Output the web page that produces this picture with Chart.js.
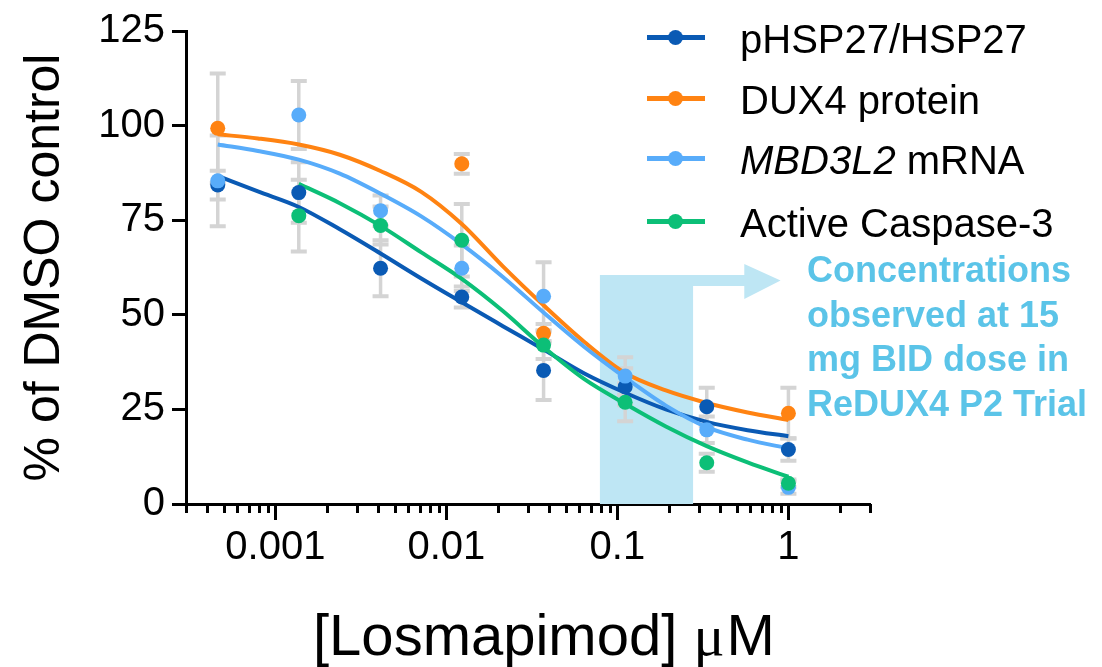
<!DOCTYPE html>
<html><head><meta charset="utf-8">
<script src="https://cdn.jsdelivr.net/npm/chart.js@4/dist/chart.umd.min.js"></script>
<style>
html,body{margin:0;padding:0;background:#fff;}
#wrap{position:relative;width:1102px;height:667px;overflow:hidden;font-family:'Liberation Sans',Arial,Helvetica,sans-serif;}
#c{position:absolute;left:0;top:0;}
.lg-line{position:absolute;height:5px;width:58px;}
.lg-dot{position:absolute;width:15px;height:15px;border-radius:50%;}
.lg-text{position:absolute;font-size:40px;line-height:40px;color:#000;white-space:nowrap;}
#note{position:absolute;left:807px;top:248px;font-weight:bold;font-size:36px;line-height:44.7px;color:#5bc4e8;white-space:nowrap;}
#xtitle{position:absolute;left:313px;top:606px;font-size:58px;line-height:58px;color:#000;white-space:nowrap;}
#xtitle .mu{font-family:'Liberation Serif','Times New Roman',serif;margin-right:2px;}
</style></head><body>
<div id="wrap">
<canvas id="c" width="1102" height="667"></canvas>
<div id="legend"></div>
<div id="note">Concentrations<br>observed at 15<br>mg BID dose in<br>ReDUX4 P2 Trial</div>
<div id="xtitle">[Losmapimod] <span class="mu">μ</span>M</div>
</div>
<script>
// ---------- data ----------
const seriesNames = ['pHSP27/HSP27', 'DUX4 protein', 'MBD3L2 mRNA', 'Active Caspase-3'];
const seriesItalic = [null, null, 'MBD3L2', null];
const seriesColors = ['#0a5ab4', '#ff8312', '#58acfa', '#0cbf77'];

const doses = [0.00046, 0.00137, 0.00412, 0.0123, 0.037, 0.111, 0.333, 1];

const hspValues  = [84.3, 82.3, 62.3, 54.7, 35.3, 31.0, 25.7, 14.4];
const hspErrors  = [3.8, 8, 7.4, 2.8, 7.8, 4.9, 5, 3];
const duxValues  = [99.3, null, null, 89.9, 45.1, null, null, 24.0];
const duxErrors  = [14.5, null, null, 2.6, 2.5, null, null, 6.7];
const mbdValues  = [85.4, 102.8, 77.5, 62.3, 54.9, 33.8, 19.6, 4.4];
const mbdErrors  = [12, 9, 4, 6, 9, 5, 3.5, 1.7];
const caspValues = [null, 76.2, 73.6, 69.7, 42.0, 26.9, 10.9, 5.5];
const caspErrors = [null, 9.5, 5, 9.6, 3.7, 5, 2.4, 1];

// fitted curves
const curveX     = [0.00046, 0.00079, 0.00137, 0.00238, 0.00412, 0.00713, 0.0123, 0.0214, 0.037, 0.0641, 0.111, 0.192, 0.333, 0.577, 1];
const hspCurve   = [86.7, 82.6, 78.5, 72.6, 66.2, 59.6, 53.3, 47.0, 40.8, 34.5, 29.4, 25.0, 21.7, 19.5, 17.9];
const duxCurve   = [97.7, 96.6, 95.0, 92.3, 88.0, 82.5, 74.0, 62.8, 52.5, 42.8, 34.6, 30.0, 26.7, 24.2, 22.2];
const mbdCurve   = [95.0, 93.3, 91.0, 87.3, 82.0, 76.0, 68.6, 60.0, 50.6, 41.5, 33.4, 26.0, 20.3, 17.0, 14.7];
const caspCurve  = [null, null, 84.6, 79.5, 73.5, 66.5, 59.5, 51.0, 41.5, 33.0, 26.5, 20.5, 15.3, 11.0, 7.2];

const xMin = 0.0003, xMax = 3;
const xMajorTicks = [0.001, 0.01, 0.1, 1];
const xTickLabels = ['0.001', '0.01', '0.1', '1'];
const yTicks = [0, 25, 50, 75, 100, 125];
const yTitle = '% of DMSO control';

// shaded region and arrow (data coordinates)
const shadeRange = [0.079, 0.277];
const shadeTop = 60.5;
const arrowShaftBottom = 57.6;
const arrowHeadBase = 0.552;
const arrowTip = 0.9;
const arrowHeadTop = 63.4;
const arrowHeadBottom = 54.2;

// ---------- styles ----------
const FONT = "'Liberation Sans', Arial, Helvetica, sans-serif";
const shadeColor = '#bee6f4';
const errColor = '#d4d4d4';

const allValues = [hspValues, duxValues, mbdValues, caspValues];
const allErrors = [hspErrors, duxErrors, mbdErrors, caspErrors];
const allCurves = [hspCurve, duxCurve, mbdCurve, caspCurve];

function pts(xs, ys) { return xs.map((x, i) => ({x: x, y: ys[i]})); }

const pointSets = allValues.map((v, i) => ({
  label: seriesNames[i] + ' points',
  data: pts(doses, v),
  showLine: false,
  pointRadius: 7.5,
  pointHoverRadius: 7.5,
  pointBorderWidth: 0,
  pointBackgroundColor: seriesColors[i],
  borderColor: seriesColors[i],
  backgroundColor: seriesColors[i]
}));
const curveSets = allCurves.map((c, i) => ({
  label: seriesNames[i],
  data: pts(curveX, c),
  showLine: true,
  pointRadius: 0,
  borderWidth: 4,
  borderColor: seriesColors[i],
  backgroundColor: seriesColors[i],
  cubicInterpolationMode: 'monotone',
  fill: false,
  spanGaps: false
}));
// first dataset is drawn on top
const datasets = [pointSets[3], pointSets[2], pointSets[1], pointSets[0],
                  curveSets[3], curveSets[2], curveSets[1], curveSets[0]];

function buildLogTicks(min, max) {
  const out = [];
  for (let e = Math.floor(Math.log10(min)); e <= Math.ceil(Math.log10(max)); e++) {
    for (let d = 1; d <= 9; d++) {
      const v = Number((d * Math.pow(10, e)).toPrecision(6));
      if (v >= min * (1 - 1e-9) && v <= max * (1 + 1e-9)) out.push(v);
    }
  }
  return out;
}
function isMajor(v) {
  return xMajorTicks.some(m => Math.abs(Math.log10(m) - Math.log10(v)) < 1e-6);
}

const backPlugin = {
  id: 'back',
  beforeDatasetsDraw(chart) {
    const {ctx, scales: {x, y}} = chart;
    const x0 = x.getPixelForValue(shadeRange[0]), x1 = x.getPixelForValue(shadeRange[1]);
    const yt = y.getPixelForValue(shadeTop), yb = y.getPixelForValue(0);
    const ys = y.getPixelForValue(arrowShaftBottom);
    const xh = x.getPixelForValue(arrowHeadBase), xt = x.getPixelForValue(arrowTip);
    const yh1 = y.getPixelForValue(arrowHeadTop), yh2 = y.getPixelForValue(arrowHeadBottom);
    const ym = (yt + ys) / 2;
    ctx.save();
    ctx.fillStyle = shadeColor;
    ctx.beginPath();
    ctx.moveTo(x0, yb); ctx.lineTo(x0, yt); ctx.lineTo(xh, yt); ctx.lineTo(xh, yh1);
    ctx.lineTo(xt, ym); ctx.lineTo(xh, yh2); ctx.lineTo(xh, ys); ctx.lineTo(x1, ys);
    ctx.lineTo(x1, yb); ctx.closePath(); ctx.fill();
    // error bars
    ctx.strokeStyle = errColor;
    ctx.lineCap = 'butt';
    for (let s = 0; s < allValues.length; s++) {
      for (let i = 0; i < doses.length; i++) {
        const v = allValues[s][i], e = allErrors[s][i];
        if (v == null || e == null) continue;
        const px = x.getPixelForValue(doses[i]);
        const pt = y.getPixelForValue(v + e), pb = y.getPixelForValue(v - e);
        ctx.lineWidth = 3.5;
        ctx.beginPath();
        ctx.moveTo(px, pt); ctx.lineTo(px, pb);
        ctx.stroke();
        ctx.lineWidth = 4;
        ctx.beginPath();
        ctx.moveTo(px - 8, pt); ctx.lineTo(px + 8, pt);
        ctx.moveTo(px - 8, pb); ctx.lineTo(px + 8, pb);
        ctx.stroke();
      }
    }
    ctx.restore();
  },
  afterDraw(chart) {
    const {ctx, scales: {x}} = chart;
    ctx.save();
    ctx.strokeStyle = '#000';
    ctx.lineWidth = 3;
    ctx.lineCap = 'butt';
    x.ticks.forEach(t => {
      const px = Math.round(x.getPixelForValue(t.value)) + 0.5;
      const len = isMajor(t.value) ? 16 : 9;
      ctx.beginPath();
      ctx.moveTo(px, x.top);
      ctx.lineTo(px, x.top + len);
      ctx.stroke();
    });
    ctx.restore();
  }
};

new Chart(document.getElementById('c'), {
  type: 'line',
  data: {datasets: datasets},
  plugins: [backPlugin],
  options: {
    responsive: false,
    animation: false,
    events: [],
    layout: {padding: {top: 25, right: 232, left: 0, bottom: 0}},
    plugins: {legend: {display: false}, tooltip: {enabled: false}},
    scales: {
      x: {
        type: 'logarithmic', min: xMin, max: xMax,
        afterFit(s) { s.height = 163; },
        afterBuildTicks(s) { s.ticks = buildLogTicks(xMin, xMax).map(v => ({value: v})); },
        grid: {display: true, drawOnChartArea: false, drawTicks: true, tickLength: 16, tickColor: 'rgba(0,0,0,0)'},
        border: {display: true, color: '#000', width: 3},
        ticks: {
          autoSkip: false, maxRotation: 0, minRotation: 0, padding: 4, color: '#000',
          font: {family: FONT, size: 40},
          callback(v) {
            const k = xMajorTicks.findIndex(m => Math.abs(Math.log10(m) - Math.log10(v)) < 1e-6);
            return k >= 0 ? xTickLabels[k] : '';
          }
        }
      },
      y: {
        min: 0, max: 125,
        afterFit(s) { s.width = 186; },
        afterBuildTicks(s) { s.ticks = yTicks.map(v => ({value: v})); },
        grid: {drawOnChartArea: false, drawTicks: true, tickLength: 14, tickWidth: 3, tickColor: '#000'},
        border: {display: true, color: '#000', width: 3},
        ticks: {padding: 7, color: '#000', font: {family: FONT, size: 40}, callback: v => String(v)},
        title: {display: true, text: yTitle, color: '#000', font: {family: FONT, size: 50, lineHeight: 1}, padding: {top: 20, bottom: 0}}
      }
    }
  }
});

// ---------- HTML legend ----------
const legendRows = [37, 98, 158, 221];
const lg = document.getElementById('legend');
seriesNames.forEach((name, i) => {
  const cy = legendRows[i];
  const line = document.createElement('div');
  line.className = 'lg-line';
  line.style.left = '647px'; line.style.top = (cy - 2.5) + 'px';
  line.style.background = seriesColors[i];
  const dot = document.createElement('div');
  dot.className = 'lg-dot';
  dot.style.left = (675 - 7.5) + 'px'; dot.style.top = (cy - 7.5) + 'px';
  dot.style.background = seriesColors[i];
  const txt = document.createElement('div');
  txt.className = 'lg-text';
  txt.style.left = '740px'; txt.style.top = (cy - 18) + 'px';
  const it = seriesItalic[i];
  if (it && name.indexOf(it) === 0) {
    const em = document.createElement('i');
    em.textContent = it;
    txt.appendChild(em);
    txt.appendChild(document.createTextNode(name.slice(it.length)));
  } else {
    txt.textContent = name;
  }
  lg.appendChild(line); lg.appendChild(dot); lg.appendChild(txt);
});
</script>
</body></html>
